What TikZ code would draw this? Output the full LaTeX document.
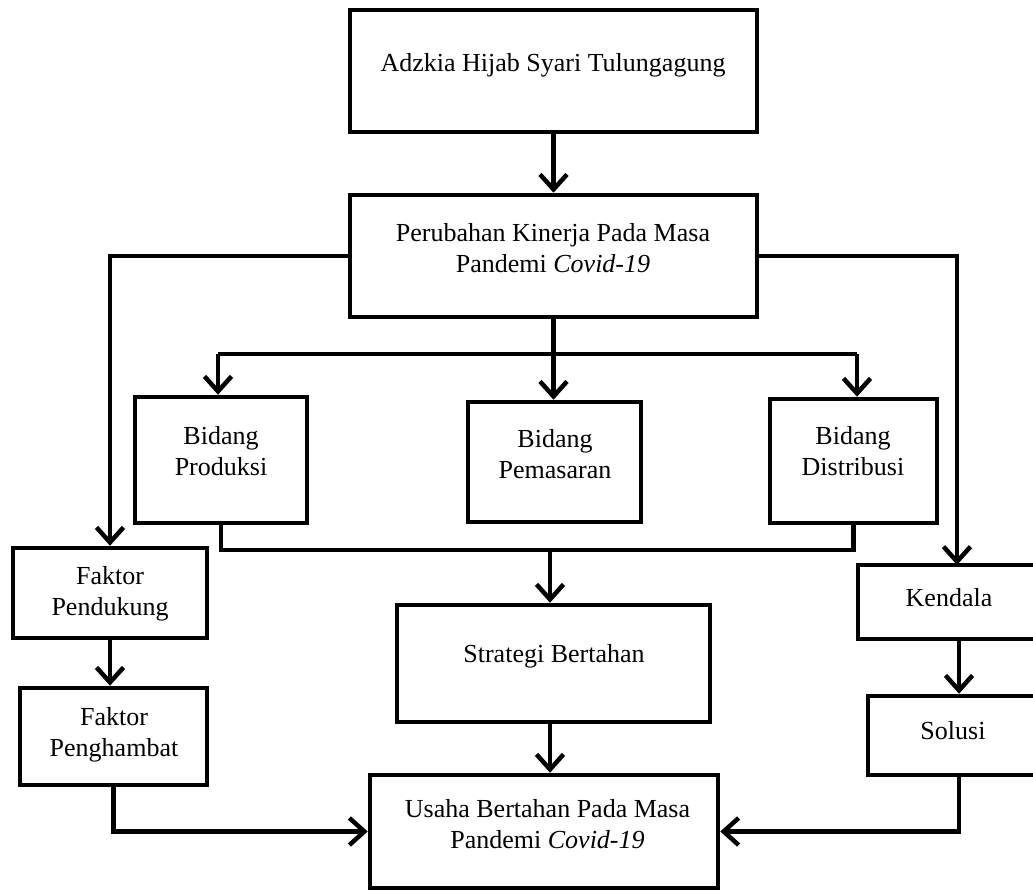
\documentclass[tikz,border=0pt]{standalone}
\usepackage{fontspec}
\setmainfont{Liberation Serif}
\usetikzlibrary{arrows.meta,calc}
\begin{document}
\begin{tikzpicture}[x=1pt,y=-1pt,
  box/.style={draw=black,line width=4.5pt,inner sep=0pt,fill=white},
  lbl/.style={align=center,inner sep=0pt,font=\fontsize{26}{31}\selectfont},
  conn/.style={draw=black,line width=4.5pt},
  arr/.style={conn,-{Straight Barb[length=15pt,width=27pt]}}]
\useasboundingbox (0,0) rectangle (1033,890);
\clip (0,0) rectangle (1033,890);
\fill[white] (0,0) rectangle (1033,890);
% boxes
\node[box,minimum width=407pt,minimum height=122pt] (A) at (553.5,71) {};
\node[box,minimum width=407pt,minimum height=122pt] (P) at (553.5,256) {};
\node[box,minimum width=172pt,minimum height=126pt] (BP) at (221,460) {};
\node[box,minimum width=173pt,minimum height=120pt] (BM) at (554.5,462) {};
\node[box,minimum width=167pt,minimum height=124pt] (BD) at (853.5,461) {};
\node[box,minimum width=194pt,minimum height=90pt] (FP) at (110,593) {};
\node[box,minimum width=187pt,minimum height=97pt] (FH) at (113.5,736.5) {};
\node[box,minimum width=313pt,minimum height=117pt] (S) at (553.5,663.5) {};
\node[box,minimum width=348pt,minimum height=113pt] (U) at (544,831.5) {};
\node[box,minimum width=187pt,minimum height=74pt] (K) at (951.5,602) {};
\node[box,minimum width=177pt,minimum height=79pt] (So) at (956.5,735.5) {};
% texts
\node[lbl] (tA) at (553,65) {Adzkia Hijab Syari Tulungagung};
\node[lbl] (tP) at (553,248) {Perubahan Kinerja Pada Masa\\Pandemi \textit{Covid-19}};
\node[lbl] (tBP) at (221,451) {Bidang\\Produksi};
\node[lbl] (tBM) at (555,454) {Bidang\\Pemasaran};
\node[lbl] (tBD) at (853,451) {Bidang\\Distribusi};
\node[lbl] (tFP) at (110,594) {Faktor\\Pendukung};
\node[lbl] (tFH) at (114,735) {Faktor\\Penghambat};
\node[lbl] (tS) at (554,656) {Strategi Bertahan};
\node[lbl] (tU) at (547.5,824) {Usaha Bertahan Pada Masa\\Pandemi \textit{Covid-19}};
\node[lbl] (tK) at (949,598) {Kendala};
\node[lbl] (tSo) at (953,731) {Solusi};
% helper coordinates
\coordinate (kin) at (957,565);
\coordinate (bus1) at (218,354);
\coordinate (bus2) at (857,354);
\coordinate (jn) at (550,550);
\coordinate (kx) at (959,0);
% connectors
\draw[arr] (A.south) -- (P.north);
\draw[arr] (P.west) -| (FP.north);
\draw[arr] (P.east) -| (kin);
\draw[arr] (P.south) -- (BM.north -| P.south);
\draw[conn] (bus1) -- (bus2);
\draw[arr] (bus1) -- (bus1 |- BP.north);
\draw[arr] (bus2) -- (bus2 |- BD.north);
\draw[conn] (BP.south) |- (jn) -| (BD.south);
\draw[arr] (jn) -- (jn |- S.north);
\draw[arr] (jn |- S.south) -- (jn |- U.north);
\draw[arr] (FP.south) -- (FP.south |- FH.north);
\draw[arr] (FH.south) |- (U.west);
\draw[arr] (K.south -| kx) -- (So.north -| kx);
\draw[arr] (So.south -| kx) |- (U.east);
\end{tikzpicture}
\end{document}
